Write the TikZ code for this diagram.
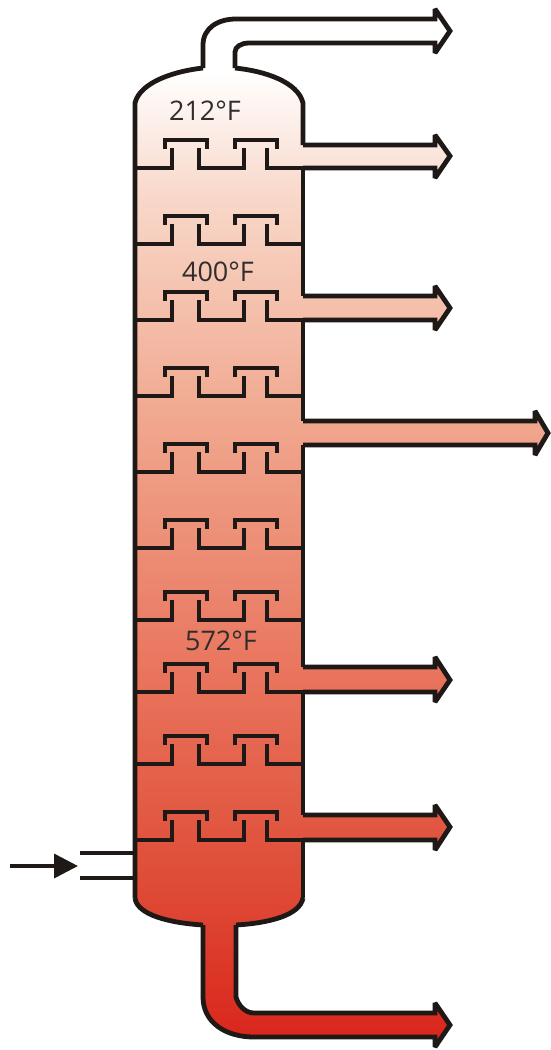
\documentclass[tikz,border=0pt]{standalone}
\usepackage{fontspec}
\setmainfont{Open Sans}
\usetikzlibrary{arrows.meta}
\definecolor{linedark}{RGB}{30,25,22}
\definecolor{textdark}{RGB}{50,45,45}
\definecolor{grada}{RGB}{218,38,28}
\definecolor{gradb}{RGB}{222,72,52}
\definecolor{gradc}{RGB}{226,90,68}
\definecolor{gradd}{RGB}{233,115,92}
\definecolor{grade}{RGB}{240,165,140}
\definecolor{gradf}{RGB}{248,215,200}
\pgfdeclareverticalshading{towerfill}{100bp}{%
  color(0bp)=(grada); color(25.4bp)=(grada); color(32.1bp)=(gradb);
  color(36.4bp)=(gradc); color(42.7bp)=(gradd); color(54.7bp)=(grade);
  color(65.8bp)=(gradf); color(72bp)=(white); color(100bp)=(white)}
\tikzset{
  wall/.style={draw=linedark, line width=4.8pt, line join=miter, miter limit=2},
  temp/.style={text=textdark, font=\fontsize{27}{28}\selectfont, inner sep=0pt}
}
\begin{document}
\begin{tikzpicture}[x=1pt, y=-1pt]
	\useasboundingbox (0,0) rectangle (551,1050);

	% silhouette with the gradient
	\shade[shading=towerfill] (203,68) -- (203,45) .. controls (203,28) and (218,19) .. (236,19)
		-- (435,19) -- (435,9) -- (450,31) -- (435,53) -- (435,43) -- (249,43)
		.. controls (241,43) and (235,47) .. (235,52) -- (235,68)
		.. controls (265,71) and (298,82) .. (303,103) -- (303,145)
		-- (435,145) -- (435,135) -- (450,156) -- (435,178) -- (435,168) -- (303,168)
		-- (303,296) -- (435,296) -- (435,286) -- (450,308) -- (435,330) -- (435,320) -- (303,320)
		-- (303,421) -- (535,421) -- (535,411) -- (548,433) -- (535,455) -- (535,445) -- (303,445)
		-- (303,667) -- (435,667) -- (435,657) -- (450,680) -- (435,702) -- (435,692) -- (303,692)
		-- (303,815) -- (435,815) -- (435,805) -- (450,827) -- (435,850) -- (435,840) -- (303,840)
		-- (303,898) .. controls (300,915) and (270,923) .. (236,925) -- (236,997)
		.. controls (238,1005) and (245,1013) .. (254,1013)
		-- (435,1013) -- (435,1003) -- (450,1025) -- (435,1047) -- (435,1037) -- (254,1037)
		.. controls (225,1037) and (203,1022) .. (203,997) -- (203,925)
		.. controls (170,923) and (137,915) .. (135,898) -- (135,103)
		.. controls (140,82) and (175,71) .. (203,68) -- cycle;

	% column shell
	\draw[wall] (135,898) -- (135,103) .. controls (140,82) and (175,71) .. (203,68);
	\draw[wall] (235,68) .. controls (265,71) and (298,82) .. (303,103) -- (303,145);
	\draw[wall] (303,168) -- (303,296);
	\draw[wall] (303,320) -- (303,421);
	\draw[wall] (303,445) -- (303,667);
	\draw[wall] (303,692) -- (303,815);
	\draw[wall] (303,840) -- (303,898);
	\draw[wall] (135,898) .. controls (137,915) and (170,923) .. (203,925);
	\draw[wall] (236,925) .. controls (270,923) and (300,915) .. (303,898);

	% overhead and bottom lines
	\draw[wall] (203,68) -- (203,45) .. controls (203,28) and (218,19) .. (236,19) -- (435,19)
		-- (435,9) -- (450,31) -- (435,53) -- (435,43) -- (249,43)
		.. controls (241,43) and (235,47) .. (235,52) -- (235,68);
	\draw[wall] (203,925) -- (203,997) .. controls (203,1022) and (225,1037) .. (254,1037) -- (435,1037)
		-- (435,1047) -- (450,1025) -- (435,1003) -- (435,1013) -- (254,1013)
		.. controls (245,1013) and (238,1005) .. (236,997) -- (236,925);

	% side draws
	\foreach \a/\b/\t/\s/\e in {145/168/156/435/450, 296/320/308/435/450, 421/445/433/535/548, 667/692/680/435/450, 815/840/827/435/450}
		\draw[wall] (303,\a) -- (\s,\a) -- (\s,{\a-10}) -- (\e,\t) -- (\s,{\b+10}) -- (\s,\b) -- (303,\b);

	% trays with their caps
	\foreach \y in {168,244,320,396,472,548,620,692,764,840} {
		\draw[wall] (135,\y) -- (172,\y) -- (172,{\y-20});
		\draw[wall] (199,{\y-20}) -- (199,\y) -- (244,\y) -- (244,{\y-20});
		\draw[wall] (267,{\y-20}) -- (267,\y) -- (303,\y);
		\draw[wall] (165,{\y-19}) -- (165,{\y-28}) -- (207,{\y-28}) -- (207,{\y-19});
		\draw[wall] (235,{\y-19}) -- (235,{\y-28}) -- (277,{\y-28}) -- (277,{\y-19});
	}

	% feed
	\coordinate (feedstart) at (10,866);
	\coordinate (feedend) at (78,866);
	\draw[draw=linedark, line width=3.6pt] (80,853) -- (135,853);
	\draw[draw=linedark, line width=3.6pt] (80,878) -- (135,878);
	\draw[draw=linedark, fill=linedark, line width=3.6pt, -{Triangle[length=24pt,width=24pt,fill=linedark]}] (feedstart) -- (feedend);

	\node[temp] (temptop) at (205,111) {212°F};
	\node[temp] (tempmid) at (218,272) {400°F};
	\node[temp] (templow) at (221,641) {572°F};
\end{tikzpicture}
\end{document}
